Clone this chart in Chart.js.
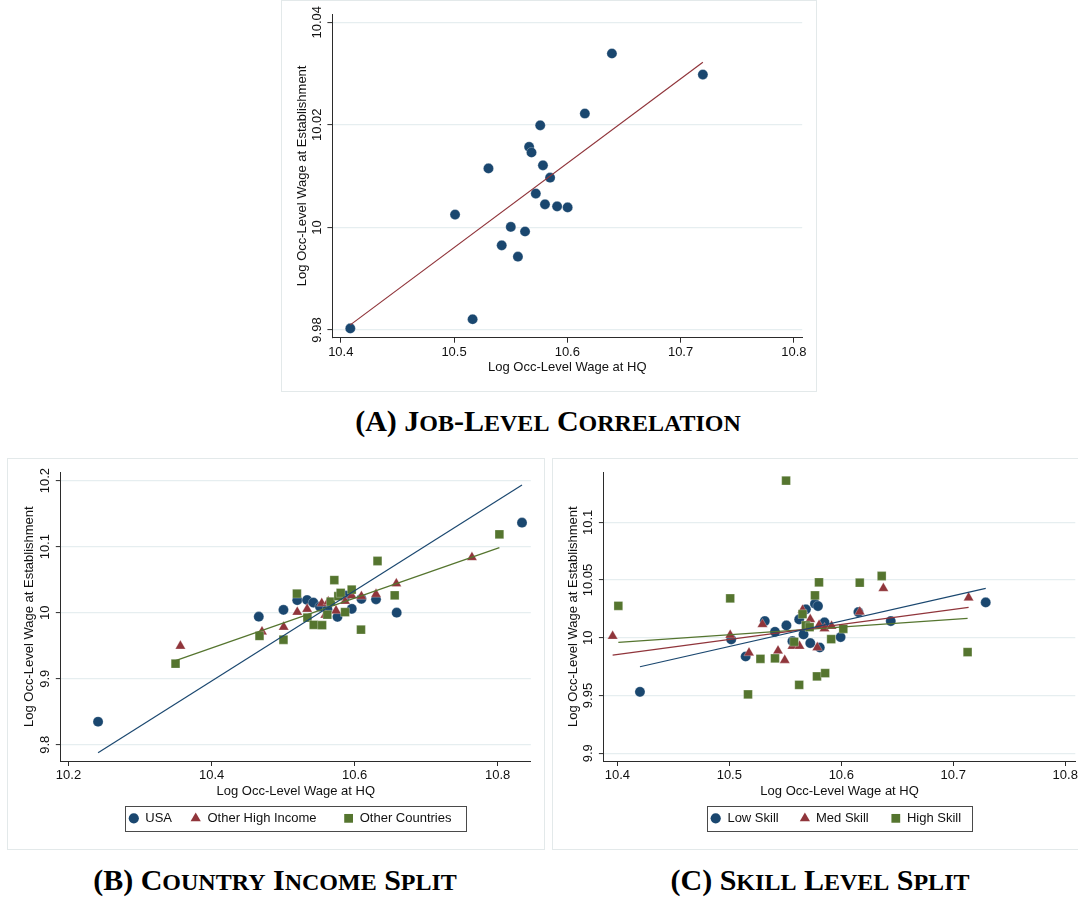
<!DOCTYPE html>
<html>
<head>
<meta charset="utf-8">
<title>Occupation wages: HQ vs establishment</title>
<script src="https://cdn.jsdelivr.net/npm/chart.js@4.4.0/dist/chart.umd.min.js"></script>
<style>
  body { margin: 0; background: #fff; }
  #page { position: relative; width: 1078px; height: 897px; overflow: hidden; background: #fff; }
  canvas { position: absolute; }
  .frame { position: absolute; border: 1px solid #e3e9ea; box-sizing: border-box; pointer-events: none; }
  .caption {
    position: absolute; white-space: nowrap; transform: translateX(-50%);
    font-family: "Liberation Serif", "Times New Roman", serif; font-weight: bold;
    font-size: 30px; line-height: 30px; color: #000;
  }
  .caption .sc { font-size: 24px; text-transform: uppercase; }
</style>
</head>
<body>
<div id="page">
  <canvas id="chartA" width="536" height="392" style="left:281px;top:0px"></canvas>
  <canvas id="chartB" width="538" height="392" style="left:7px;top:458px"></canvas>
  <canvas id="chartC" width="542" height="392" style="left:552px;top:458px"></canvas>
  <div class="frame" style="left:281px;top:0px;width:536px;height:392px"></div>
  <div class="frame" style="left:7px;top:458px;width:538px;height:392px"></div>
  <div class="frame" style="left:552px;top:458px;width:530px;height:392px"></div>
  <div class="caption" style="left:548px;top:406px">(A) J<span class="sc">ob</span>-L<span class="sc">evel</span> C<span class="sc">orrelation</span></div>
  <div class="caption" style="left:275px;top:865px">(B) C<span class="sc">ountry</span> I<span class="sc">ncome</span> S<span class="sc">plit</span></div>
  <div class="caption" style="left:820px;top:865px">(C) S<span class="sc">kill</span> L<span class="sc">evel</span> S<span class="sc">plit</span></div>
</div>
<script>
// ---- axis ticks ----
const ticksA_x = [10.4, 10.5, 10.6, 10.7, 10.8];
const ticksA_y = [9.98, 10, 10.02, 10.04];
const ticksB_x = [10.2, 10.4, 10.6, 10.8];
const ticksB_y = [9.8, 9.9, 10, 10.1, 10.2];
const ticksC_x = [10.4, 10.5, 10.6, 10.7, 10.8];
const ticksC_y = [9.9, 9.95, 10, 10.05, 10.1];

const xTitle = 'Log Occ-Level Wage at HQ';
const yTitle = 'Log Occ-Level Wage at Establishment';

// ---- panel A: job-level means ----
const hqA = [10.4084, 10.5009, 10.5164, 10.5304, 10.5421, 10.5501, 10.5564, 10.5627, 10.5663, 10.5684,
             10.5722, 10.5761, 10.5785, 10.5803, 10.5848, 10.5910, 10.6003, 10.6155, 10.6394, 10.7197];
const estA = [9.9803, 10.0025, 9.9821, 10.0115, 9.9965, 10.0001, 9.9943, 9.9992, 10.0157, 10.0146,
              10.0066, 10.0199, 10.0121, 10.0045, 10.0097, 10.0041, 10.0039, 10.0222, 10.0339, 10.0298];
const fitA_x = [10.4084, 10.7197];
const fitA_y = [9.9810, 10.0322];

// ---- panel B: by country income group ----
const groupsB = ['USA', 'Other High Income', 'Other Countries'];
const hqUSA = [10.2413, 10.4660, 10.5005, 10.5198, 10.5335, 10.5423, 10.5516, 10.5620, 10.5760, 10.5875,
               10.5960, 10.6095, 10.6299, 10.6588, 10.8340];
const estUSA = [9.8348, 9.9939, 10.0043, 10.0190, 10.0192, 10.0153, 10.0091, 10.0050, 9.9937, 10.0258,
                10.0058, 10.0210, 10.0203, 10.0000, 10.1364];
const hqOHI = [10.3564, 10.4705, 10.5008, 10.5198, 10.5336, 10.5540, 10.5590, 10.5632, 10.5740, 10.5866,
               10.5959, 10.6095, 10.6299, 10.6583, 10.7640];
const estOHI = [9.9495, 9.9712, 9.9783, 10.0010, 10.0054, 10.0142, 9.9965, 10.0167, 10.0030, 10.0175,
                10.0260, 10.0248, 10.0279, 10.0440, 10.0838];
const hqOC = [10.3496, 10.4670, 10.5005, 10.5193, 10.5340, 10.5428, 10.5545, 10.5618, 10.5666, 10.5716,
              10.5772, 10.5805, 10.5866, 10.5959, 10.6089, 10.6320, 10.6560, 10.8024];
const estOC = [9.9227, 9.9647, 9.9590, 10.0288, 9.9925, 9.9816, 9.9810, 9.9970, 10.0167, 10.0495,
               10.0250, 10.0300, 10.0008, 10.0350, 9.9743, 10.0783, 10.0263, 10.1187];
const fitUSA_x = [10.2413, 10.8340];
const fitUSA_y = [9.7879, 10.1934];
const fitOC_x = [10.3496, 10.8024];
const fitOC_y = [9.9273, 10.0985];

// ---- panel C: by skill level ----
const groupsC = ['Low Skill', 'Med Skill', 'High Skill'];
const hqLow = [10.4202, 10.5017, 10.5146, 10.5317, 10.5408, 10.5510, 10.5564, 10.5624, 10.5663, 10.5684,
               10.5723, 10.5765, 10.5792, 10.5808, 10.5850, 10.5994, 10.6153, 10.6442, 10.7290];
const estLow = [9.9532, 9.9986, 9.9838, 10.0145, 10.0052, 10.0107, 9.9971, 10.0159, 10.0029, 10.0246,
                9.9954, 10.0295, 10.0275, 9.9916, 10.0133, 10.0006, 10.0223, 10.0145, 10.0306];
const hqMed = [10.3958, 10.5008, 10.5176, 10.5296, 10.5435, 10.5495, 10.5564, 10.5627, 10.5654, 10.5723,
               10.5786, 10.5802, 10.5850, 10.5913, 10.6165, 10.6376, 10.7137];
const estMed = [10.0014, 10.0023, 9.9870, 10.0116, 9.9887, 9.9806, 9.9928, 9.9928, 10.0240, 10.0159,
                9.9916, 10.0110, 10.0081, 10.0101, 10.0225, 10.0428, 10.0347];
const hqHigh = [10.4009, 10.5008, 10.5167, 10.5278, 10.5408, 10.5507, 10.5579, 10.5624, 10.5654, 10.5684,
                10.5717, 10.5765, 10.5783, 10.5801, 10.5856, 10.5910, 10.6018, 10.6165, 10.6361, 10.7128];
const estHigh = [10.0277, 10.0341, 9.9509, 9.9818, 9.9821, 10.1361, 9.9965, 9.9592, 10.0205, 10.0107,
                 10.0092, 10.0367, 9.9665, 10.0480, 9.9694, 9.9988, 10.0078, 10.0477, 10.0535, 9.9876];
const fitLow_x = [10.4202, 10.7290];
const fitLow_y = [9.9749, 10.0428];
const fitMed_x = [10.3958, 10.7137];
const fitMed_y = [9.9850, 10.0263];
const fitHigh_x = [10.4009, 10.7128];
const fitHigh_y = [9.9960, 10.0168];

// ---- styling ----
const NAVY = '#1a476f';
const MAROON = '#90353b';
const GREEN = '#55752f';
const TEXT = '#111111';
const AXIS = '#2b2b2b';
const GRID = '#e6eef0';
const FONT_FAMILY = '"Liberation Sans", Arial, Helvetica, sans-serif';

Chart.defaults.font.family = FONT_FAMILY;
Chart.defaults.font.size = 13;
Chart.defaults.color = TEXT;

const toPoints = (xs, ys) => xs.map((x, i) => ({ x: x, y: ys[i] }));

const markers = {
    circle: { pointStyle: 'circle', pointRadius: 5.1 },
    triangle: { pointStyle: 'triangle', pointRadius: 5.9 },
    rect: { pointStyle: 'rect', pointRadius: 6.2 }
};

function scatterSet (label, xs, ys, color, marker, order) {
    return {
        label: label,
        data: toPoints(xs, ys),
        pointStyle: markers[marker].pointStyle,
        pointRadius: markers[marker].pointRadius,
        pointBackgroundColor: color,
        pointBorderColor: 'rgba(255,255,255,0.35)',
        pointBorderWidth: 0.8,
        showLine: false,
        order: order
    };
}

function fitSet (xs, ys, color) {
    return {
        label: 'fit',
        data: toPoints(xs, ys),
        showLine: true,
        borderColor: color,
        borderWidth: 1.2,
        pointRadius: 0,
        order: 0
    };
}

// same shapes as Chart.js point styles, used for the boxed legend
function drawMarker (ctx, style, x, y, r, fill) {
    ctx.beginPath();
    if (style === 'triangle') {
        for (let k = 0; k < 3; k++) {
            const a = k * 2 * Math.PI / 3;
            const px = x + Math.sin(a) * r;
            const py = y - Math.cos(a) * r;
            if (k === 0) ctx.moveTo(px, py); else ctx.lineTo(px, py);
        }
        ctx.closePath();
    } else if (style === 'rect') {
        const s = r * Math.SQRT1_2;
        ctx.rect(x - s, y - s, 2 * s, 2 * s);
    } else {
        ctx.arc(x, y, r, 0, 2 * Math.PI);
    }
    ctx.fillStyle = fill;
    ctx.fill();
}

// vertical tick labels on the y axis (reading bottom to top)
function yLabelPlugin (offset) {
    return {
        id: 'yLabels',
        afterDraw (chart) {
            const scale = chart.scales.y;
            const ctx = chart.ctx;
            ctx.save();
            ctx.font = '13px ' + FONT_FAMILY;
            ctx.fillStyle = TEXT;
            ctx.textAlign = 'center';
            ctx.textBaseline = 'middle';
            scale.ticks.forEach(function (t) {
                ctx.save();
                ctx.translate(scale.right - offset, scale.getPixelForValue(t.value));
                ctx.rotate(-Math.PI / 2);
                ctx.fillText(String(t.value), 0, 0);
                ctx.restore();
            });
            ctx.restore();
        }
    };
}

// legend in a thin box under the x-axis title
function legendPlugin (spec) {
    return {
        id: 'boxLegend',
        afterDraw (chart) {
            const ctx = chart.ctx;
            const b = spec.box;
            ctx.save();
            ctx.strokeStyle = '#4a4a4a';
            ctx.lineWidth = 1;
            ctx.strokeRect(Math.round(b.left) + 0.5, Math.round(b.top) + 0.5, Math.round(b.width), Math.round(b.height));
            const cy = b.top + b.height / 2;
            ctx.font = '13px ' + FONT_FAMILY;
            ctx.textAlign = 'left';
            ctx.textBaseline = 'middle';
            spec.items.forEach(function (item) {
                const ds = chart.data.datasets.find(d => d.label === item.label);
                const mx = b.left + item.offset;
                drawMarker(ctx, ds.pointStyle, mx, cy, ds.pointRadius, ds.pointBackgroundColor);
                ctx.fillStyle = TEXT;
                ctx.fillText(ds.label, mx + item.gap, cy + 0.5);
            });
            ctx.restore();
        }
    };
}

function buildPanel (id, p) {
    const extra = [yLabelPlugin(p.yLabelOffset)];
    if (p.legend) extra.push(legendPlugin(p.legend));
    return new Chart(document.getElementById(id), {
        type: 'scatter',
        data: { datasets: p.datasets },
        options: {
            responsive: false,
            animation: false,
            events: [],
            layout: { padding: p.padding },
            plugins: {
                legend: { display: false },
                tooltip: { enabled: false }
            },
            scales: {
                x: {
                    type: 'linear',
                    min: p.xRange[0],
                    max: p.xRange[1],
                    afterBuildTicks: s => { s.ticks = p.xTicks.map(v => ({ value: v })); },
                    afterFit: s => { s.height = p.xHeight; },
                    ticks: { padding: 2, color: TEXT, callback: v => String(v) },
                    grid: { drawOnChartArea: false, drawTicks: true, tickLength: 5, tickColor: AXIS, tickWidth: 1 },
                    border: { display: true, color: AXIS, width: 1 },
                    title: {
                        display: true, text: xTitle, color: TEXT,
                        font: { size: 13 }, padding: { top: 0, bottom: p.xTitlePad }
                    }
                },
                y: {
                    type: 'linear',
                    min: p.yRange[0],
                    max: p.yRange[1],
                    afterBuildTicks: s => { s.ticks = p.yTicks.map(v => ({ value: v })); },
                    afterFit: s => { s.width = p.yWidth; },
                    ticks: { display: false },
                    grid: { color: GRID, lineWidth: 1.2, drawTicks: true, tickLength: 5, tickColor: AXIS, tickWidth: 1 },
                    border: { display: true, color: AXIS, width: 1 },
                    title: {
                        display: true, text: yTitle, color: TEXT,
                        font: { size: 13 }, padding: { top: p.yTitlePad, bottom: 0 }
                    }
                }
            }
        },
        plugins: extra
    });
}

// (A) job-level correlation
buildPanel('chartA', {
    datasets: [
        fitSet(fitA_x, fitA_y, MAROON),
        scatterSet('Occupations', hqA, estA, NAVY, 'circle', 1)
    ],
    xRange: [10.3926, 10.8074], yRange: [9.9785, 10.0416],
    xTicks: ticksA_x, yTicks: ticksA_y,
    padding: { left: 0, top: 14, right: 14.8, bottom: 14.3 },
    yWidth: 51.4, xHeight: 40, yTitlePad: 13.2, xTitlePad: 2.2, yLabelOffset: 15.2
});

// (B) country income split
buildPanel('chartB', {
    datasets: [
        fitSet(fitUSA_x, fitUSA_y, NAVY),
        fitSet(fitOC_x, fitOC_y, GREEN),
        scatterSet(groupsB[0], hqUSA, estUSA, NAVY, 'circle', 3),
        scatterSet(groupsB[1], hqOHI, estOHI, MAROON, 'triangle', 2),
        scatterSet(groupsB[2], hqOC, estOC, GREEN, 'rect', 1)
    ],
    xRange: [10.1892, 10.8463], yRange: [9.7753, 10.2127],
    xTicks: ticksB_x, yTicks: ticksB_y,
    padding: { left: 0, top: 14.3, right: 14.2, bottom: 49 },
    yWidth: 53.8, xHeight: 40, yTitlePad: 14.7, xTitlePad: 2.2, yLabelOffset: 15.8,
    legend: {
        box: { left: 118.1, top: 348, width: 340.7, height: 24.7 },
        items: [
            { label: groupsB[0], offset: 8.7, gap: 11.5 },
            { label: groupsB[1], offset: 70.6, gap: 11.8 },
            { label: groupsB[2], offset: 223.5, gap: 11.1 }
        ]
    }
});

// (C) skill level split; the canvas runs past the page edge so the last tick label is cut
buildPanel('chartC', {
    datasets: [
        fitSet(fitLow_x, fitLow_y, NAVY),
        fitSet(fitMed_x, fitMed_y, MAROON),
        fitSet(fitHigh_x, fitHigh_y, GREEN),
        scatterSet(groupsC[0], hqLow, estLow, NAVY, 'circle', 3),
        scatterSet(groupsC[1], hqMed, estMed, MAROON, 'triangle', 2),
        scatterSet(groupsC[2], hqHigh, estHigh, GREEN, 'rect', 1)
    ],
    xRange: [10.3880, 10.8090], yRange: [9.8933, 10.1433],
    xTicks: ticksC_x, yTicks: ticksC_y,
    padding: { left: 0, top: 14.3, right: 18.7, bottom: 49 },
    yWidth: 51.9, xHeight: 40, yTitlePad: 13.8, xTitlePad: 2.2, yLabelOffset: 15.2,
    legend: {
        box: { left: 155.2, top: 348, width: 264.7, height: 24.7 },
        items: [
            { label: groupsC[0], offset: 8.5, gap: 11.7 },
            { label: groupsC[1], offset: 97.7, gap: 11.1 },
            { label: groupsC[2], offset: 188.6, gap: 11.1 }
        ]
    }
});
</script>
</body>
</html>
